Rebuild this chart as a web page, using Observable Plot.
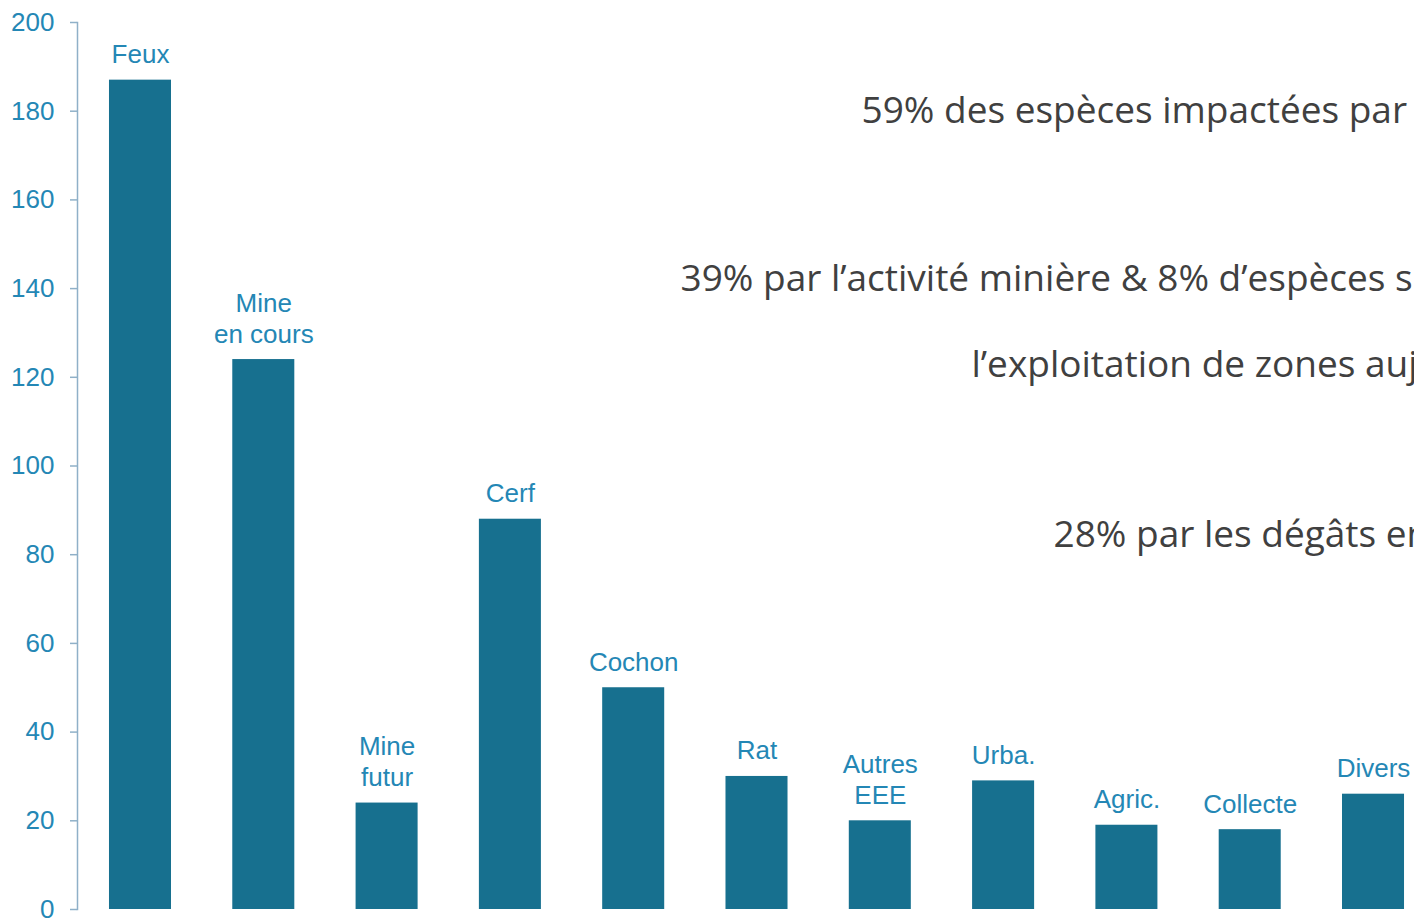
<!DOCTYPE html>
<html>
<head>
<meta charset="utf-8">
<script src="https://cdn.jsdelivr.net/npm/d3@7"></script>
<script src="https://cdn.jsdelivr.net/npm/@observablehq/plot@0.6"></script>
<style>
  html, body { margin: 0; padding: 0; background: #fff; overflow: hidden; }
  #chart { width: 1414px; height: 919px; }
</style>
</head>
<body>
<div id="chart"></div>
<script>
const categories = ["Feux", "Mine\nen cours", "Mine\nfutur", "Cerf", "Cochon", "Rat", "Autres\nEEE", "Urba.", "Agric.", "Collecte", "Divers"];
const values = [187, 124, 24, 88, 50, 30, 20, 29, 19, 18, 26];
const yTicks = [0, 20, 40, 60, 80, 100, 120, 140, 160, 180, 200];
const note1 = "59% des espèces impactées par";
const note2 = "39% par l’activité minière & 8% d’espèces s";
const note3 = "l’exploitation de zones auj";
const note4 = "28% par les dégâts en";

const data = categories.map((c, i) => ({cat: c, value: values[i]}));

const labelColor = "#2487b5";
const axisColor = "#8fb0c8";
const barColor = "#17708f";
const noteColor = "#404040";
const noteFont = "'Open Sans', sans-serif";

function note(text, dx, dy) {
  return Plot.text([text], {
    frameAnchor: "top-left", text: d => d, textAnchor: "start", lineAnchor: "bottom",
    dx, dy, fontSize: 37, fill: noteColor, fontFamily: noteFont
  });
}

const chart = Plot.plot({
  width: 1414,
  height: 919,
  marginTop: 22,
  marginBottom: 10,
  marginLeft: 77,
  marginRight: 0,
  style: {fontFamily: "'Liberation Sans', Arial, sans-serif", background: "#fff", overflow: "hidden"},
  x: {domain: categories, range: [47.7, 1465.3], padding: 0.497, round: false, axis: null},
  y: {domain: [0, 200], axis: null},
  marks: [
    Plot.barY(data, {x: "cat", y: "value", fill: barColor}),
    Plot.text(data, {
      x: "cat", y: "value", text: "cat", lineAnchor: "bottom", dy: -17,
      fontSize: 26, lineHeight: 1.19, fill: labelColor
    }),
    Plot.axisY({
      ticks: yTicks, tickSize: 7, tickPadding: 16, fontSize: 26,
      stroke: axisColor, strokeWidth: 1.5, fill: labelColor, label: null, tickFormat: d => String(d)
    }),
    Plot.frame({anchor: "left", stroke: axisColor, strokeWidth: 1.5}),
    note(note1, 784, 100),
    note(note2, 603, 268),
    note(note3, 894, 354),
    note(note4, 976, 524)
  ]
});
document.getElementById("chart").appendChild(chart);
</script>
</body>
</html>
